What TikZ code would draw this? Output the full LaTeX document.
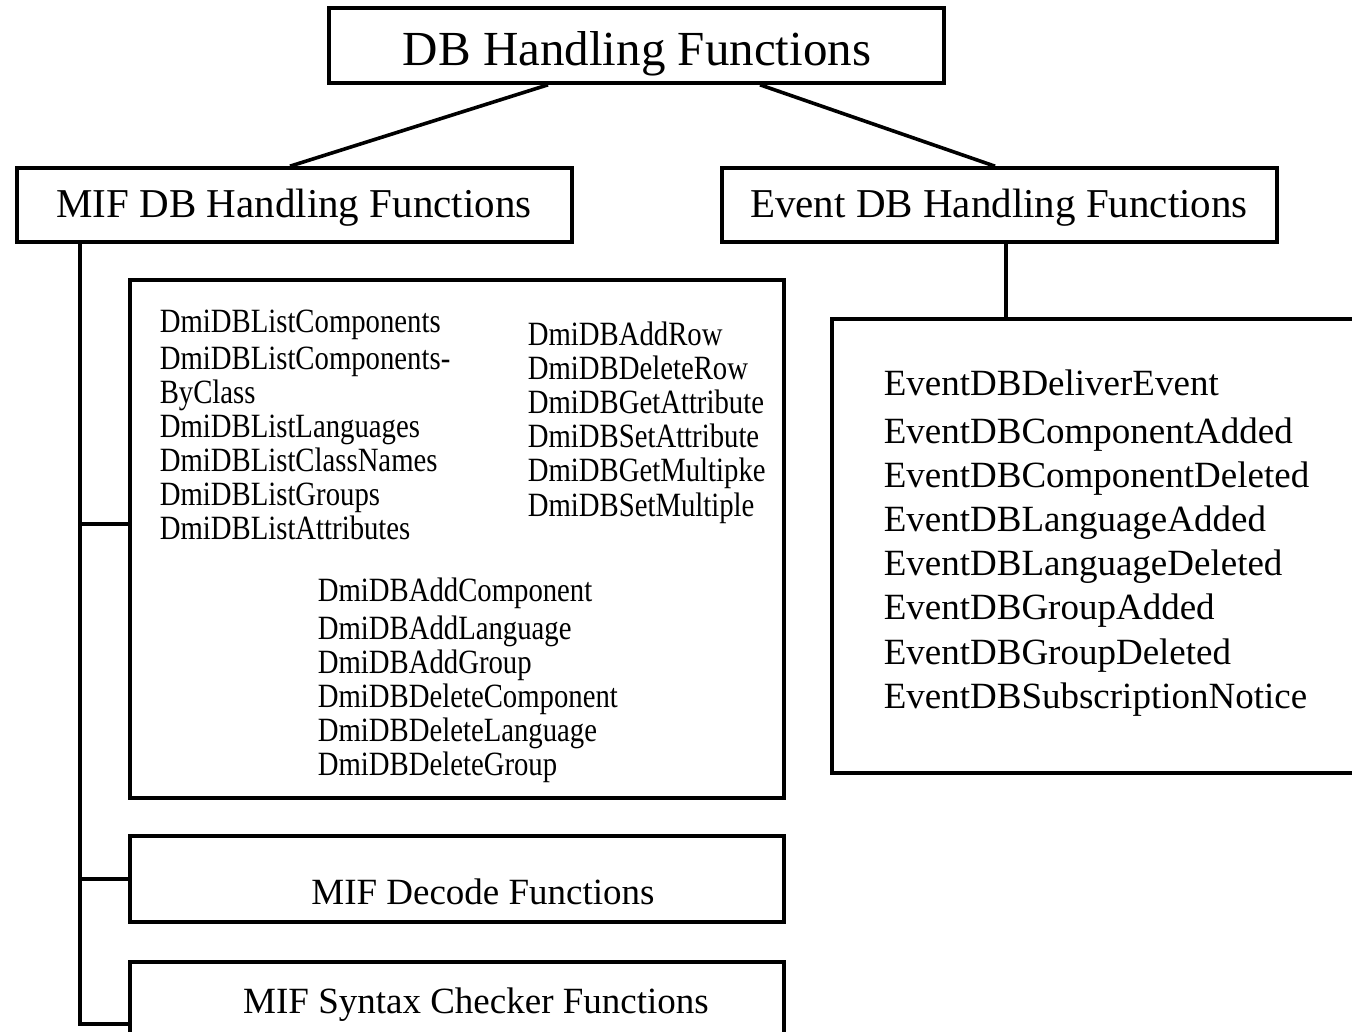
\documentclass[tikz,border=0pt]{standalone}
\usepackage{fontspec}
\setmainfont{Liberation Serif}
\newfontfamily\narrowserif[FakeStretch=0.845]{Liberation Serif}
\begin{document}
\begin{tikzpicture}[x=1pt,y=-1pt,line width=3.6pt,
  box/.style={draw,rectangle,inner sep=0pt,line join=miter},
  big/.style={font=\fontsize{49}{51}\selectfont,anchor=base,inner sep=0pt},
  mid/.style={font=\fontsize{41}{43}\selectfont,anchor=base,inner sep=0pt},
  evt/.style={font=\fontsize{37}{39}\selectfont,anchor=base west,inner sep=0pt},
  sub/.style={font=\fontsize{37}{39}\selectfont,anchor=base,inner sep=0pt},
  sm/.style={font=\narrowserif\fontsize{34}{36}\selectfont,anchor=base west,inner sep=0pt},
  conn/.style={draw,line cap=butt}]
\clip (0,0) rectangle (1352,1031);
\fill[white] (0,0) rectangle (1352,1031);
% boxes
\node[box,minimum width=615,minimum height=75] (top) at (636.5,45.5) {};
\node[box,minimum width=555,minimum height=74] (mif) at (294.5,205) {};
\node[box,minimum width=555,minimum height=74] (ev) at (999.5,205) {};
\node[box,minimum width=600,minimum height=454] (evl) at (1132,546) {};
\node[box,minimum width=654,minimum height=518] (lst) at (457,539) {};
\node[box,minimum width=654,minimum height=86] (dec) at (457,879) {};
\node[box,minimum width=654,minimum height=100] (syn) at (457,1012) {};
% titles
\node[big] (ttop) at (637,65) {DB Handling Functions};
\node[mid] (tmif) at (294,217) {MIF DB Handling Functions};
\node[mid] (tev) at (999,217) {Event DB Handling Functions};
\node[sub] (tdec) at (483,904) {MIF Decode Functions};
\node[sub] (tsyn) at (476,1013) {MIF Syntax Checker Functions};
% event list
\foreach \t [count=\i] in {EventDBDeliverEvent,EventDBComponentAdded,EventDBComponentDeleted,EventDBLanguageAdded,EventDBLanguageDeleted,EventDBGroupAdded,EventDBGroupDeleted,EventDBSubscriptionNotice}
  {\pgfmathsetmacro\yy{ifthenelse(\i==1,395,443+(\i-2)*44.2)}
   \node[evt] (e\i) at (882,\yy) {\t};}
% column 1
\node[sm] (a1) at (158,332) {DmiDBListComponents};
\foreach \t [count=\i] in {DmiDBListComponents-,ByClass,DmiDBListLanguages,DmiDBListClassNames,DmiDBListGroups,DmiDBListAttributes}
  {\pgfmathsetmacro\yy{369+(\i-1)*34}
   \node[sm] (a\i x) at (158,\yy) {\t};}
% column 2
\foreach \t [count=\i] in {DmiDBAddRow,DmiDBDeleteRow,DmiDBGetAttribute,DmiDBSetAttribute,DmiDBGetMultipke,DmiDBSetMultiple}
  {\pgfmathsetmacro\yy{345+(\i-1)*34.2}
   \node[sm] (b\i) at (526,\yy) {\t};}
% column 3
\node[sm] (c1) at (316,601) {DmiDBAddComponent};
\foreach \t [count=\i] in {DmiDBAddLanguage,DmiDBAddGroup,DmiDBDeleteComponent,DmiDBDeleteLanguage,DmiDBDeleteGroup}
  {\pgfmathsetmacro\yy{639+(\i-1)*34}
   \node[sm] (c\i x) at (316,\yy) {\t};}
% connectors
\draw[conn] ([xshift=-88.5pt]top.south) -- ([xshift=-4.5pt]mif.north);
\draw[conn] ([xshift=123.5pt]top.south) -- ([xshift=-4.5pt]ev.north);
\draw[conn] ([xshift=6.5pt]ev.south) -- ([xshift=6.5pt]ev.south |- evl.north);
\coordinate (tr) at ([xshift=-214.5pt]mif.south);
\coordinate (b3) at ([yshift=-12pt]syn.west);
\draw[conn] (tr) |- (b3);
\draw[conn] (tr |- 0,524) -- (lst.west |- 0,524);
\draw[conn] (tr |- dec.west) -- (dec.west);
\end{tikzpicture}
\end{document}
